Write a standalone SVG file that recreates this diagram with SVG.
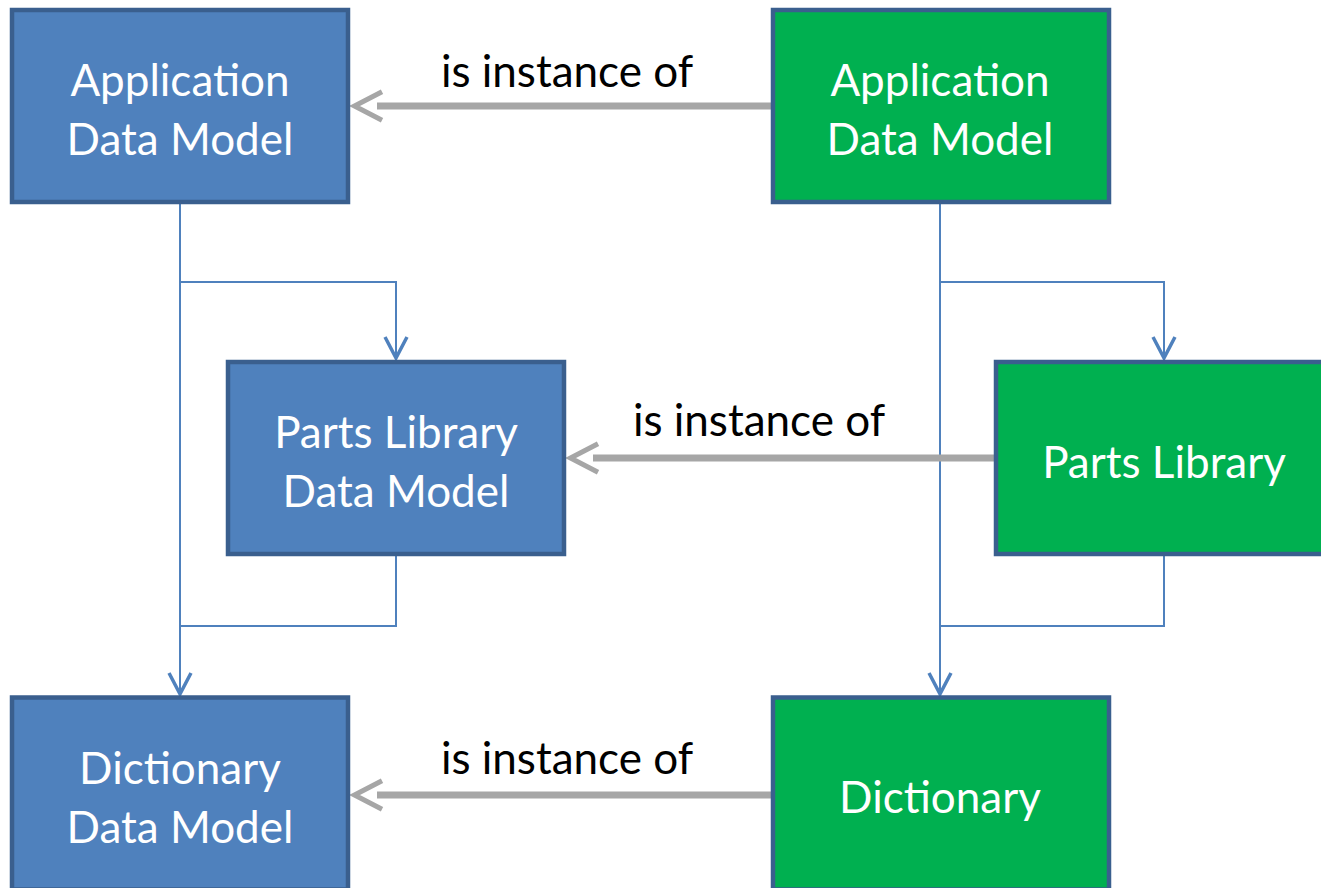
<svg xmlns="http://www.w3.org/2000/svg" width="1321" height="888" viewBox="0 0 1321 888">
<style>
.box{stroke:#3A5F8E;stroke-width:4.5}
.blue{fill:#4F81BD}
.green{fill:#00B050}
.lbl{font-family:Lato,"Liberation Sans",sans-serif;font-size:44px;fill:#FFFFFF;text-anchor:middle}
.rel{font-family:Lato,"Liberation Sans",sans-serif;font-size:44px;fill:#000000;text-anchor:middle}
.tree{fill:none;stroke:#4F81BD;stroke-width:2}
.inst{fill:none;stroke:#A6A6A6;stroke-width:7}
</style>
<defs>
<marker id="vhead" markerUnits="userSpaceOnUse" orient="auto" refX="0" refY="0" markerWidth="40" markerHeight="40" viewBox="-30 -20 40 40" style="overflow:visible">
<path d="M-21,-11 L0,0 L-21,11" fill="none" stroke="#4F81BD" stroke-width="3.5"/>
</marker>
<marker id="ghead" markerUnits="userSpaceOnUse" orient="auto" refX="0" refY="0" markerWidth="50" markerHeight="50" viewBox="-20 -25 60 50" style="overflow:visible">
<path d="M-6,-17 L27,0 L-6,17" fill="none" stroke="#A6A6A6" stroke-width="6"/>
</marker>
</defs>
<g id="connectors">
<path class="tree" d="M180,204 V694" marker-end="url(#vhead)"/>
<path class="tree" d="M180,282 H396 V358" marker-end="url(#vhead)"/>
<path class="tree" d="M396,556 V626 H180"/>
<path class="tree" d="M940,204 V694" marker-end="url(#vhead)"/>
<path class="tree" d="M940,282 H1164 V358" marker-end="url(#vhead)"/>
<path class="tree" d="M1164,556 V626 H940"/>
<path class="inst" d="M771,106 H377" marker-end="url(#ghead)"/>
<path class="inst" d="M995,458 H593" marker-end="url(#ghead)"/>
<path class="inst" d="M771,795 H377" marker-end="url(#ghead)"/>
<text class="rel" x="567" y="87">is instance of</text>
<text class="rel" x="759" y="436">is instance of</text>
<text class="rel" x="567" y="774">is instance of</text>
</g>
<g id="app-dm">
<rect class="box blue" x="12" y="10" width="336" height="192"/>
<text class="lbl" x="180" y="96">Application</text>
<text class="lbl" x="180" y="155">Data Model</text>
</g>
<g id="app">
<rect class="box green" x="773" y="10" width="336" height="192"/>
<text class="lbl" x="940" y="96">Application</text>
<text class="lbl" x="940" y="155">Data Model</text>
</g>
<g id="parts-dm">
<rect class="box blue" x="228" y="362" width="336" height="192"/>
<text class="lbl" x="396" y="448">Parts Library</text>
<text class="lbl" x="396" y="507">Data Model</text>
</g>
<g id="parts">
<rect class="box green" x="996" y="362" width="336" height="192"/>
<text class="lbl" x="1164" y="478">Parts Library</text>
</g>
<g id="dict-dm">
<rect class="box blue" x="12" y="697.5" width="336" height="192"/>
<text class="lbl" x="180" y="784">Dictionary</text>
<text class="lbl" x="180" y="843">Data Model</text>
</g>
<g id="dict">
<rect class="box green" x="773" y="697.5" width="336" height="192"/>
<text class="lbl" x="940" y="813">Dictionary</text>
</g>
</svg>
